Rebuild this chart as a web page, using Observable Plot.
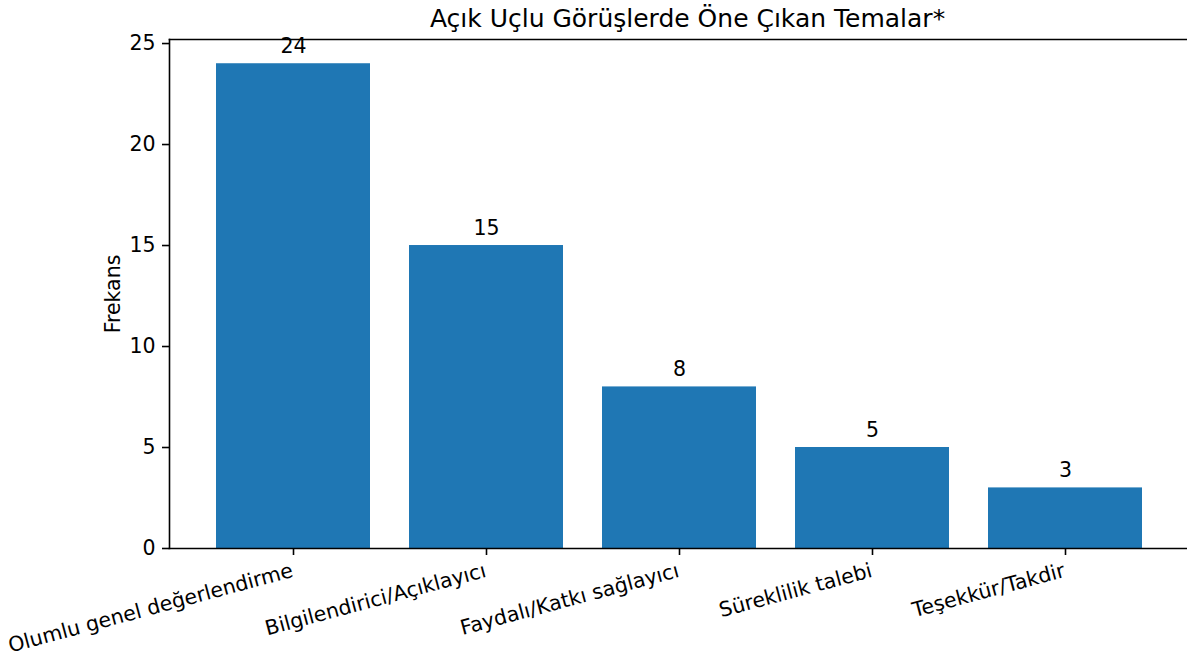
<!DOCTYPE html>
<html><head><meta charset="utf-8">
<script src="https://cdn.jsdelivr.net/npm/d3@7"></script>
<script src="https://cdn.jsdelivr.net/npm/@observablehq/plot@0.6"></script>
<style>body{margin:0;background:#fff} svg{font-family:"DejaVu Sans"}</style>
</head><body><div id="chart"></div>
<script>
const categories = ["Olumlu genel değerlendirme", "Bilgilendirici/Açıklayıcı", "Faydalı/Katkı sağlayıcı", "Süreklilik talebi", "Teşekkür/Takdir"];
const values = [24, 15, 8, 5, 3];
const yTicks = [0, 5, 10, 15, 20, 25];
const titleText = "Açık Uçlu Görüşlerde Öne Çıkan Temalar*";
const yLabel = "Frekans";

const data = categories.map((c, i) => ({category: c, value: values[i]}));

const chart = Plot.plot({
  width: 1187, height: 658,
  marginLeft: 169, marginRight: 0, marginTop: 39, marginBottom: 110,
  style: {fontFamily: "DejaVu Sans", fontSize: "20.5px", background: "#fff", color: "#000"},
  x: {domain: categories, range: [169.3, 1189.7], paddingInner: 0.2, paddingOuter: 0.24, label: null},
  y: {domain: [0, 25.2], label: null},
  marks: [
    Plot.barY(data, {x: "category", y: "value", fill: "#1f77b4"}),
    Plot.text(data, {x: "category", y: "value", text: d => String(d.value), dy: -11, lineAnchor: "bottom", fontSize: 20.5, fill: "#000"}),
    Plot.axisY({ticks: yTicks, tickSize: 7, tickPadding: 7, label: null, fontSize: 20.5, stroke: "#000", strokeWidth: 1.6}),
    Plot.axisX({tickSize: 7, tickFormat: () => "", label: null, stroke: "#000", strokeWidth: 1.6}),
    Plot.text(categories, {x: d => d, frameAnchor: "bottom", dy: 14, dx: -3, rotate: -15, textAnchor: "end", lineAnchor: "top", fontSize: 20.5, fill: "#000"}),
    Plot.frame({anchor: "left", stroke: "#000", strokeWidth: 1.6}),
    Plot.frame({anchor: "top", stroke: "#000", strokeWidth: 1.6}),
    Plot.frame({anchor: "bottom", stroke: "#000", strokeWidth: 1.6}),
    Plot.text([titleText], {frameAnchor: "top", dy: -13, dx: 9, lineAnchor: "bottom", fontSize: 25, fill: "#000"}),
    Plot.text([yLabel], {frameAnchor: "left", dx: -56.5, rotate: -90, textAnchor: "middle", lineAnchor: "middle", fontSize: 20.5, fill: "#000"})
  ]
});
document.getElementById("chart").appendChild(chart);
</script>
</body></html>
